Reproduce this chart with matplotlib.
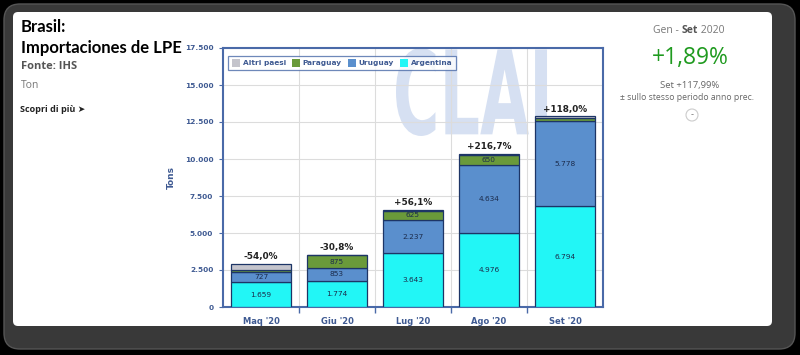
import numpy as np
import matplotlib.pyplot as plt
from matplotlib.patches import FancyBboxPatch, Patch, PathPatch, Circle
from matplotlib.textpath import TextPath
from matplotlib.font_manager import FontProperties
from matplotlib.transforms import Affine2D

# data
months = ["Maq '20", "Giu '20", "Lug '20", "Ago '20", "Set '20"]
argentina = [1659, 1774, 3643, 4976, 6794]
uruguay = [727, 853, 2237, 4634, 5778]
paraguay = [130, 875, 625, 650, 200]
altri = [380, 40, 60, 80, 100]
var_pct = ["-54,0%", "-30,8%", "+56,1%", "+216,7%", "+118,0%"]
yticks = [0, 2500, 5000, 7500, 10000, 12500, 15000, 17500]

c_arg = "#22f6f6"
c_uru = "#5a8fcd"
c_par = "#6a9a3a"
c_alt = "#c4c4cc"
navy = "#1d3566"
axis_blue = "#4a6aa8"
tick_blue = "#3f5a92"


def fmt(v):
    return f"{v:,}".replace(",", ".")


fig = plt.figure(figsize=(8, 3.55), dpi=100, facecolor="black")

# background in pixel coordinates
bg = fig.add_axes([0, 0, 1, 1], zorder=-1)
bg.set_xlim(0, 800)
bg.set_ylim(355, 0)
bg.axis("off")
bg.add_patch(FancyBboxPatch((4, 4), 791, 345, boxstyle="round,pad=0,rounding_size=16",
                            fc="#393939", ec="#555555", lw=1))
bg.add_patch(FancyBboxPatch((13, 12), 759, 314, boxstyle="round,pad=0,rounding_size=5",
                            fc="white", ec="none"))

# CLAL watermark
tp = TextPath((0, 0), "CLAL", size=1, prop=FontProperties(family="DejaVu Sans", weight="bold"))
ext = tp.get_extents()
tr = (Affine2D().translate(-ext.x0, -ext.y0)
      .scale(172 / ext.width, -88 / ext.height).translate(396, 136))
bg.add_patch(PathPatch(tr.transform_path(tp), fc="#d6e0f2", ec="none"))

# left header texts
bg.text(21, 32, "Brasil:", fontsize=12, fontweight="bold", family="Lato", color="black")
bg.text(21, 53, "Importaciones de LPE", fontsize=12, fontweight="bold", family="Lato", color="black")
bg.text(21, 69, "Fonte: IHS", fontsize=8, fontweight="bold", family="Open Sans", color="#555555")
bg.text(21, 88, "Ton", fontsize=7.5, family="Open Sans", color="#777777")
bg.text(20, 112, "Scopri di più ➤", fontsize=6.5, fontweight="bold",
        family=["Open Sans", "DejaVu Sans"], color="#222222")

# right summary texts
t1 = bg.text(653, 33, "Gen - ", fontsize=7.5, family="Open Sans", color="#777777")
t2 = bg.annotate("Set", xy=(1, 0), xycoords=t1, fontsize=7.5, fontweight="bold",
                 family="Open Sans", color="#555555", va="bottom")
bg.annotate(" 2020", xy=(1, 0), xycoords=t2, fontsize=7.5, family="Open Sans",
            color="#777777", va="bottom")
bg.text(690, 64, "+1,89%", fontsize=16.5, family="Open Sans", color="#1f9a1f", ha="center")
bg.text(690, 88, "Set +117,99%", fontsize=6.8, family="Open Sans", color="#666666", ha="center")
bg.text(687, 100, "± sullo stesso periodo anno prec.", fontsize=6.2, family="Open Sans",
        color="#666666", ha="center")
bg.add_patch(Circle((692, 115), 6, fc="white", ec="#cccccc", lw=0.8))
bg.text(692, 115, "-", fontsize=6, color="#777777", ha="center", va="center")

# chart
ax = fig.add_axes([223 / 800, 48 / 355, 380 / 800, 259 / 355])
ax.set_facecolor("none")
x = np.arange(len(months))
w = 0.8
series = [("Argentina", argentina, c_arg), ("Uruguay", uruguay, c_uru),
          ("Paraguay", paraguay, c_par), ("Altri paesi", altri, c_alt)]
bottom = np.zeros(len(months))
for name, vals, col in series:
    vals = np.array(vals, dtype=float)
    ax.bar(x, vals, w, bottom=bottom, color=col, edgecolor=navy, linewidth=0.9, zorder=3)
    if name != "Altri paesi":
        for xi, b, v in zip(x, bottom, vals):
            if v >= 500:
                ax.text(xi, b + v / 2, fmt(int(v)), ha="center", va="center",
                        fontsize=5.3, color="#1b2b4b", zorder=4)
    bottom += vals

for xi, top, lab in zip(x, bottom, var_pct):
    ax.annotate(lab, (xi, top), xytext=(0, 2), textcoords="offset points", ha="center",
                va="bottom", fontsize=6.4, fontweight="bold", color="#222222", zorder=4)

ax.set_xlim(-0.5, len(months) - 0.5)
ax.set_ylim(0, 17500)
ax.set_yticks(yticks)
ax.set_yticklabels([fmt(v) for v in yticks])
ax.set_xticks(x)
ax.set_xticklabels(months)
ax.set_xticks(np.arange(0.5, len(months) - 0.5, 1), minor=True)
ax.tick_params(axis="x", which="major", length=0, pad=7, labelsize=6, labelcolor=tick_blue)
ax.tick_params(axis="x", which="minor", length=4, color=axis_blue, width=1)
ax.tick_params(axis="y", length=3, color=axis_blue, pad=4, labelsize=5.3, labelcolor=tick_blue)
for lab in ax.get_xticklabels() + ax.get_yticklabels():
    lab.set_fontweight("bold")
ax.set_ylabel("Tons", fontsize=6.5, fontweight="bold", color=tick_blue, labelpad=6)
ax.grid(axis="y", color="#dcdcdc", lw=0.8, zorder=1)
ax.grid(axis="x", which="minor", color="#dcdcdc", lw=0.8, zorder=1)
for s in ax.spines.values():
    s.set_color(axis_blue)
    s.set_linewidth(1.5)

handles = [Patch(fc=c_alt, ec="none", label="Altri paesi"),
           Patch(fc=c_par, ec="none", label="Paraguay"),
           Patch(fc=c_uru, ec="none", label="Uruguay"),
           Patch(fc=c_arg, ec="none", label="Argentina")]
leg = ax.legend(handles=handles, loc="upper left", bbox_to_anchor=(0.013, 0.97), ncol=4,
                fontsize=5.3, frameon=True, fancybox=False, edgecolor=axis_blue,
                handlelength=1.1, handleheight=1.1, handletextpad=0.4, columnspacing=0.8,
                borderpad=0.5, borderaxespad=0)
leg.get_frame().set_linewidth(0.9)
for t in leg.get_texts():
    t.set_color(tick_blue)
    t.set_fontweight("bold")

fig.savefig("out.png", dpi=100, facecolor=fig.get_facecolor())
